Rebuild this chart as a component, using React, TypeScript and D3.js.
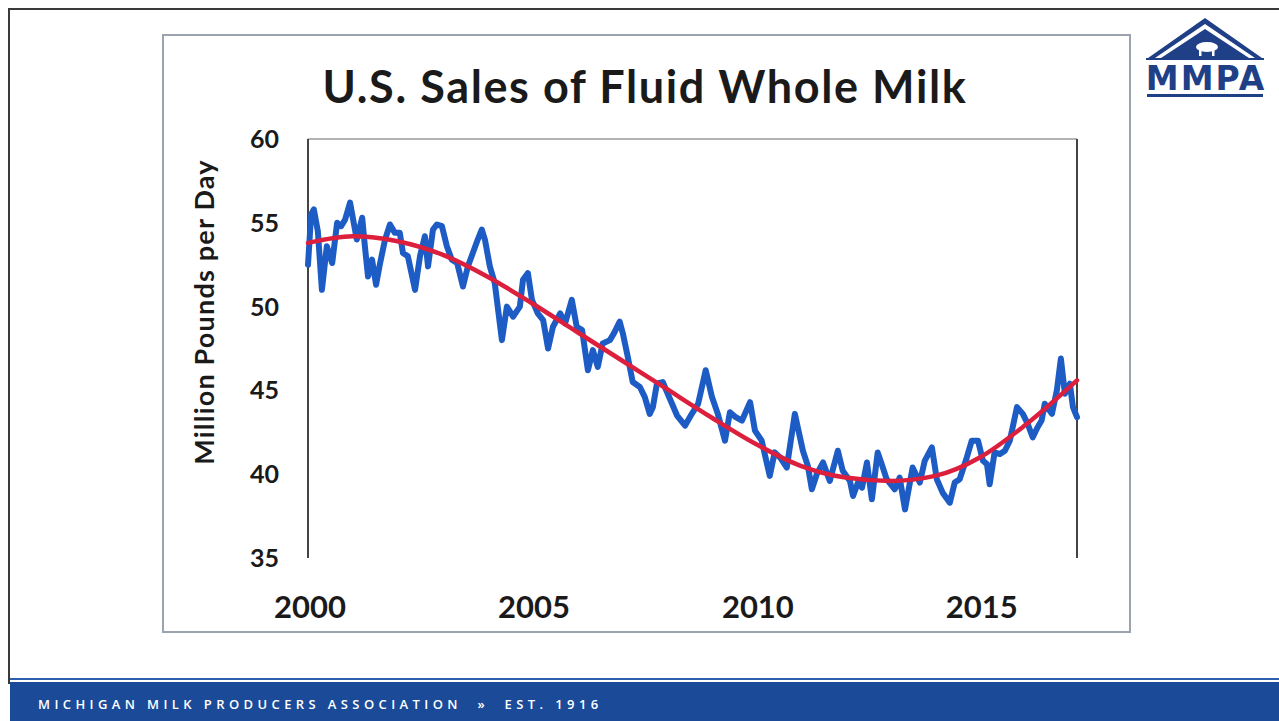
import React from "react";
import * as d3 from "d3";

// Monthly-ish readings (decimal year, million lbs/day)
const years: number[] = [
  2000.00, 2000.07, 2000.13, 2000.22, 2000.31, 2000.42, 2000.54, 2000.65, 2000.74, 2000.83, 2000.94,
  2001.00, 2001.09, 2001.21, 2001.27, 2001.34, 2001.43, 2001.52, 2001.61, 2001.72, 2001.83, 2001.94,
  2002.05, 2002.12, 2002.23, 2002.39, 2002.50, 2002.61, 2002.68, 2002.79, 2002.88, 2002.99,
  2003.10, 2003.21, 2003.33, 2003.46, 2003.57, 2003.68, 2003.79, 2003.88, 2003.95,
  2004.06, 2004.17, 2004.33, 2004.44, 2004.58, 2004.73, 2004.80, 2004.91,
  2005.00, 2005.13, 2005.25, 2005.36, 2005.47, 2005.63, 2005.74, 2005.89,
  2006.00, 2006.12, 2006.25, 2006.36, 2006.47, 2006.58, 2006.74, 2006.83, 2006.96,
  2007.03, 2007.14, 2007.25, 2007.41, 2007.52, 2007.63, 2007.70, 2007.79, 2007.92,
  2008.08, 2008.24, 2008.42, 2008.57, 2008.71, 2008.88,
  2009.02, 2009.15, 2009.31, 2009.42, 2009.55, 2009.69, 2009.87, 2009.98,
  2010.13, 2010.31, 2010.42, 2010.54, 2010.69, 2010.87,
  2011.05, 2011.16, 2011.25, 2011.36, 2011.50, 2011.65, 2011.83, 2011.94,
  2012.10, 2012.17, 2012.28, 2012.37, 2012.48, 2012.59, 2012.72, 2012.81, 2012.92,
  2013.10, 2013.21, 2013.33, 2013.50, 2013.66, 2013.77, 2013.93,
  2014.04, 2014.17, 2014.33, 2014.44, 2014.55, 2014.71, 2014.82, 2014.96,
  2015.07, 2015.16, 2015.22, 2015.33, 2015.45, 2015.56, 2015.67, 2015.83, 2015.96,
  2016.07, 2016.18, 2016.29, 2016.38, 2016.45, 2016.61, 2016.72, 2016.81, 2016.90,
  2017.01, 2017.08, 2017.17,
];

const sales: number[] = [
  52.5, 55.5, 55.8, 54.5, 51.0, 53.6, 52.6, 55.0, 54.8, 55.2, 56.2,
  55.3, 54.0, 55.3, 53.6, 51.8, 52.8, 51.3, 52.6, 54.0, 54.9, 54.4,
  54.4, 53.2, 53.0, 51.0, 53.0, 54.2, 52.4, 54.6, 54.9, 54.8,
  53.6, 52.8, 52.6, 51.2, 52.4, 53.2, 54.0, 54.6, 54.0,
  52.4, 51.4, 48.0, 50.0, 49.4, 50.0, 51.6, 52.0,
  50.4, 49.6, 49.2, 47.5, 48.8, 49.6, 49.0, 50.4,
  48.8, 48.6, 46.2, 47.4, 46.4, 47.8, 48.0, 48.4, 49.1,
  48.4, 47.0, 45.5, 45.2, 44.6, 43.6, 44.0, 45.4, 45.5,
  44.5, 43.5, 42.9, 43.6, 44.2, 46.2,
  44.6, 43.6, 42.0, 43.7, 43.4, 43.2, 44.3, 42.6,
  42.0, 39.9, 41.3, 41.0, 40.4, 43.6,
  41.4, 40.5, 39.1, 40.0, 40.7, 39.6, 41.4, 40.2,
  39.6, 38.7, 39.5, 39.2, 40.7, 38.5, 41.3, 40.6, 39.7,
  39.1, 39.8, 37.9, 40.4, 39.5, 40.8, 41.6,
  39.7, 38.9, 38.3, 39.5, 39.7, 41.0, 42.0, 42.0,
  40.8, 40.6, 39.4, 41.3, 41.2, 41.4, 42.0, 44.0, 43.6,
  43.0, 42.2, 42.8, 43.2, 44.2, 43.6, 45.0, 46.9, 44.8,
  45.4, 44.0, 43.4,
];

// Trend (red) readings
const trendYears: number[] = [2000, 2001, 2002, 2003, 2004, 2005, 2006, 2007, 2008, 2009, 2010, 2011, 2012, 2013, 2014, 2015, 2016, 2017.17];
const trendValues: number[] = [53.8, 54.2, 53.9, 53.1, 51.8, 50.2, 48.5, 46.8, 45.1, 43.4, 41.8, 40.5, 39.8, 39.6, 39.9, 41.0, 42.9, 45.6];

const yTicks: number[] = [35, 40, 45, 50, 55, 60];
const xTicks: number[] = [2000, 2005, 2010, 2015];

const TITLE = "U.S. Sales of Fluid Whole Milk";
const Y_LABEL = "Million Pounds per Day";
const FOOTER = "MICHIGAN MILK PRODUCERS ASSOCIATION  »  EST. 1916";

export default function App() {
  const W = 1279, H = 721;
  const x = d3.scaleLinear().domain([2000, 2017.17]).range([308, 1077]);
  const y = d3.scaleLinear().domain([35, 60]).range([558, 139]);

  const blue = d3.line<number>()
    .x((_, i) => x(years[i]))
    .y((d) => y(d))(sales) as string;

  const red = d3.line<number>()
    .x((_, i) => x(trendYears[i]))
    .y((d) => y(d))
    .curve(d3.curveMonotoneX)(trendValues) as string;

  const font = "Lato, 'Open Sans', sans-serif";
  const navy = "#1f3f86";

  return (
    <svg width={W} height={H} style={{ position: "absolute", left: 0, top: 0, background: "#fff" }}>
      <rect x={0} y={0} width={W} height={H} fill="#fff" />
      {/* slide frame */}
      <line x1={8} y1={9} x2={W} y2={9} stroke="#3a3a3a" strokeWidth={2} />
      <line x1={9} y1={8} x2={9} y2={684} stroke="#3a3a3a" strokeWidth={2} />
      {/* footer */}
      <line x1={10} y1={679} x2={W} y2={679} stroke="#2c5fae" strokeWidth={2} />
      <rect x={10} y={682} width={W - 10} height={H - 682} fill="#1b4b98" />
      <text x={38} y={709} fill="#fff" fontFamily="'Open Sans', sans-serif" fontWeight={600} fontSize={13} letterSpacing={4.4} style={{ whiteSpace: "pre" }}>
        {FOOTER}
      </text>

      {/* logo */}
      <g>
        <path d="M1148,58 L1205,18 L1262,58 L1255,58 L1205,24 L1155,58 Z" fill={navy} />
        <path d="M1161,58 L1205,29 L1249,58 Z" fill={navy} />
        <ellipse cx={1207} cy={47} rx={11} ry={5} fill="#fff" />
        <rect x={1199} y={50} width={2.5} height={6} fill="#fff" />
        <rect x={1212} y={50} width={2.5} height={6} fill="#fff" />
        <rect x={1146} y={58} width={118} height={2} fill={navy} />
        <text x={1206} y={90} textAnchor="middle" fill={navy} fontFamily="'DejaVu Sans', sans-serif" fontWeight={700} fontSize={33} letterSpacing={2}>
          MMPA
        </text>
        <rect x={1147} y={94} width={116} height={3} fill={navy} />
      </g>

      {/* chart box */}
      <rect x={163} y={35} width={967} height={597} fill="#fff" stroke="#9aa3ae" strokeWidth={2} />

      <text x={645} y={103} textAnchor="middle" fontFamily={font} fontWeight={700} fontSize={45} letterSpacing={1.6} fill="#1a1a1a">
        {TITLE}
      </text>

      {/* plot frame */}
      <line x1={308} y1={139} x2={1077} y2={139} stroke="#9a9a9a" strokeWidth={1.5} />
      <line x1={308} y1={139} x2={308} y2={558} stroke="#444" strokeWidth={2} />
      <line x1={1077} y1={139} x2={1077} y2={558} stroke="#444" strokeWidth={2} />

      {yTicks.map((t) => (
        <text key={t} x={279} y={y(t)} dy="0.36em" textAnchor="end" fontFamily={font} fontWeight={700} fontSize={25} fill="#1a1a1a">
          {t}
        </text>
      ))}
      {xTicks.map((t) => (
        <text key={t} x={x(t) + 2} y={618} textAnchor="middle" fontFamily={font} fontWeight={700} fontSize={31} fill="#1a1a1a">
          {t}
        </text>
      ))}
      <text transform={`translate(214,312) rotate(-90)`} textAnchor="middle" fontFamily={font} fontWeight={700} fontSize={27} letterSpacing={1.2} fill="#1a1a1a">
        {Y_LABEL}
      </text>

      <path d={blue} fill="none" stroke="#1d5cc4" strokeWidth={6} strokeLinejoin="round" strokeLinecap="round" />
      <path d={red} fill="none" stroke="#dc1f3c" strokeWidth={4.5} strokeLinecap="round" />
    </svg>
  );
}
